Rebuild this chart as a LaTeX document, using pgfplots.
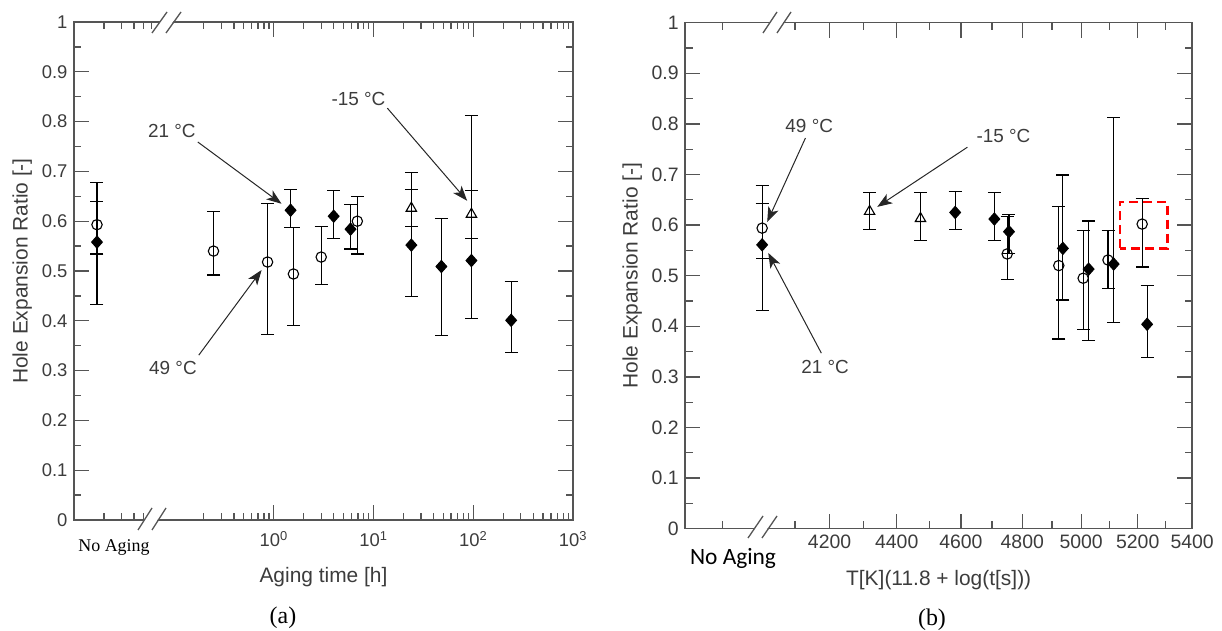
\documentclass[border=0pt]{standalone}
\usepackage{fontspec}
\setmainfont{Liberation Sans}
\newfontfamily\timesf{Liberation Serif}
\newfontfamily\calib{Carlito}
\usepackage{pgfplots}
\pgfplotsset{compat=1.18}
\usetikzlibrary{arrows.meta}
\definecolor{txt}{HTML}{3C3C3C}
\definecolor{axc}{HTML}{555555}

\tikzset{
  ann/.style={-{Stealth[length=15bp,width=11bp,inset=4bp]}, line width=1bp, black!85},
  anntxt/.style={txt, font=\fontsize{19}{22}\selectfont},
}
\pgfplotsset{
  heset/.style={
    scale only axis, clip=false,
    ymin=0, ymax=1,
    ytick={0,0.1,0.2,0.3,0.4,0.5,0.6,0.7,0.8,0.9,1},
    yticklabels={0,0.1,0.2,0.3,0.4,0.5,0.6,0.7,0.8,0.9,1},
    minor ytick={0.05,0.15,0.25,0.35,0.45,0.55,0.65,0.75,0.85,0.95},
    tick align=inside,
    major tick length=15bp, minor tick length=7.5bp,
    axis line style={axc, line width=1.4bp},
    every tick/.style={axc, line width=1.3bp},
    tick label style={txt, font=\fontsize{18.5}{20}\selectfont},
    yticklabel style={xshift=-3bp},
    label style={txt, font=\fontsize{21}{24}\selectfont},
  },
  pts/.style={only marks, black, line width=1.1bp,
    error bars/y dir=both, error bars/y explicit,
    error bars/error mark=-,
    error bars/error bar style={line width=1.2bp, black},
    error bars/error mark options={rotate=90, line width=1.2bp, mark size=6.5bp, black}},
  circ/.style={pts, mark=o, mark size=5.2bp},
  diam/.style={pts, mark=diamond*, mark size=6bp, mark options={xscale=1.18, fill=black}},
  tri/.style={pts, mark=triangle, mark size=6bp},
}

\begin{document}
\begin{tikzpicture}
\useasboundingbox (0,0) rectangle (1222bp,631bp);

% ---------------- (a) ----------------
\begin{axis}[heset, at={(74bp,111bp)}, anchor=south west,
  width=499bp, height=498bp,
  xmode=log, xmin=0.01, xmax=1000,
  xtick={1,10,100,1000},
  xticklabels={10\textsuperscript{0},10\textsuperscript{1},10\textsuperscript{2},10\textsuperscript{3}},
  minor xtick={0.02,0.03,0.04,0.05,0.06,0.2,0.3,0.4,0.5,0.6,0.7,0.8,0.9,2,3,4,5,6,7,8,9,20,30,40,50,60,70,80,90,200,300,400,500,600,700,800,900},
  xticklabel style={yshift=-8bp},
  xlabel={Aging time [h]},
  ylabel={Hole Expansion Ratio [-]},
  xlabel style={at={(axis description cs:0.5,-0.1145)}, anchor=center},
  ylabel style={at={(axis description cs:-0.104,0.5)}, anchor=center},
]
\addplot[circ] table[x=x, y=y, y error plus=ep, y error minus=em] {
x y ep em
0.017 0.593 0.047 0.059
0.25 0.540 0.080 0.048
0.87 0.518 0.117 0.145
1.58 0.494 0.093 0.104
3.0 0.528 0.061 0.055
6.9 0.600 0.049 0.066
};
\addplot[diam] table[x=x, y=y, y error plus=ep, y error minus=em] {
x y ep em
0.017 0.558 0.120 0.126
1.48 0.622 0.042 0.034
4.0 0.610 0.051 0.044
5.9 0.584 0.050 0.040
24 0.552 0.146 0.104
48 0.509 0.096 0.139
96 0.521 0.291 0.117
240 0.401 0.078 0.065
};
\addplot[tri] table[x=x, y=y, y error plus=ep, y error minus=em] {
x y ep em
24 0.626 0.038 0.036
96 0.614 0.048 0.049
};
\node[anntxt] at (axis cs:0.0955,0.781) {21 °C};
\draw[ann] (axis cs:0.174,0.759) -- (axis cs:1.20,0.635);
\node[anntxt] at (axis cs:0.098,0.305) {49 °C};
\draw[ann] (axis cs:0.178,0.331) -- (axis cs:0.759,0.502);
\node[anntxt] at (axis cs:7.08,0.845) {-15 °C};
\draw[ann] (axis cs:13.8,0.827) -- (axis cs:87,0.641);
\end{axis}

% ---------------- (b) ----------------
\begin{axis}[heset, at={(685bp,102.3bp)}, anchor=south west,
  width=507bp, height=506bp,
  xmode=log, xmin=3800, xmax=5400,
  xtick={4200,4400,4600,4800,5000,5200,5400},
  xticklabels={4200,4400,4600,4800,5000,5200,5400},
  minor xtick={3900,4100,4300,4500,4700,4900,5100,5300},
  xticklabel style={yshift=-3bp, font=\fontsize{19.5}{21}\selectfont},
  yticklabel style={font=\fontsize{19.5}{21}\selectfont},
  xlabel={T[K](11.8 + log(t[s]))},
  ylabel={Hole Expansion Ratio [-]},
  xlabel style={at={(axis description cs:0.5,-0.1008)}, anchor=center},
  ylabel style={at={(axis description cs:-0.1045,0.5)}, anchor=center},
]
\addplot[circ] table[x=x, y=y, y error plus=ep, y error minus=em] {
x y ep em
4008 0.594 0.049 0.060
4750 0.543 0.074 0.050
4923 0.520 0.116 0.145
5007 0.495 0.094 0.102
5094 0.531 0.059 0.056
5216 0.602 0.050 0.085
};
\addplot[diam] table[x=x, y=y, y error plus=ep, y error minus=em] {
x y ep em
4008 0.561 0.118 0.129
4582 0.625 0.041 0.033
4708 0.612 0.052 0.043
4756 0.587 0.034 0.043
4937 0.554 0.145 0.102
5026 0.513 0.095 0.141
5114 0.523 0.290 0.116
5234 0.404 0.076 0.065
};
\addplot[tri] table[x=x, y=y, y error plus=ep, y error minus=em] {
x y ep em
4318 0.627 0.038 0.035
4473 0.613 0.051 0.044
};
\draw[red, line width=2.6bp, dash pattern=on 9bp off 5bp] (axis cs:5136,0.554) rectangle (axis cs:5308,0.646);
\node[anntxt] at (axis cs:4141,0.796) {49 °C};
\draw[ann] (axis cs:4130,0.772) -- (axis cs:4022,0.606);
\node[anntxt] at (axis cs:4187,0.320) {21 °C};
\draw[ann] (axis cs:4176,0.347) -- (axis cs:4025,0.545);
\node[anntxt] at (axis cs:4738,0.776) {-15 °C};
\draw[ann] (axis cs:4621,0.754) -- (axis cs:4341,0.636);
\end{axis}

% ---------------- axis breaks ----------------
\foreach \a/\b/\c/\d in {138/101/152/123, 152/598/167/619, 748/93/763/115, 763/598/777/619}{
  \fill[white] (\a bp,\b bp) -- (\c bp,\d bp) -- (\c bp+13bp,\d bp) -- (\a bp+13bp,\b bp) -- cycle;
  \draw[axc, line width=1.3bp] (\a bp,\b bp) -- (\c bp,\d bp);
  \draw[axc, line width=1.3bp] (\a bp+14bp,\b bp) -- (\c bp+14bp,\d bp);
}

% ---------------- extra texts ----------------
\node[black] at (114bp,84bp) {\timesf\fontsize{18}{20}\selectfont No Aging};
\node[black] at (733bp,73bp) {\calib\fontsize{23.5}{26}\selectfont No Aging};
\node[black] at (283bp,13bp) {\timesf\fontsize{24}{26}\selectfont (a)};
\node[black] at (932bp,11bp) {\timesf\fontsize{24}{26}\selectfont (b)};
\end{tikzpicture}
\end{document}
